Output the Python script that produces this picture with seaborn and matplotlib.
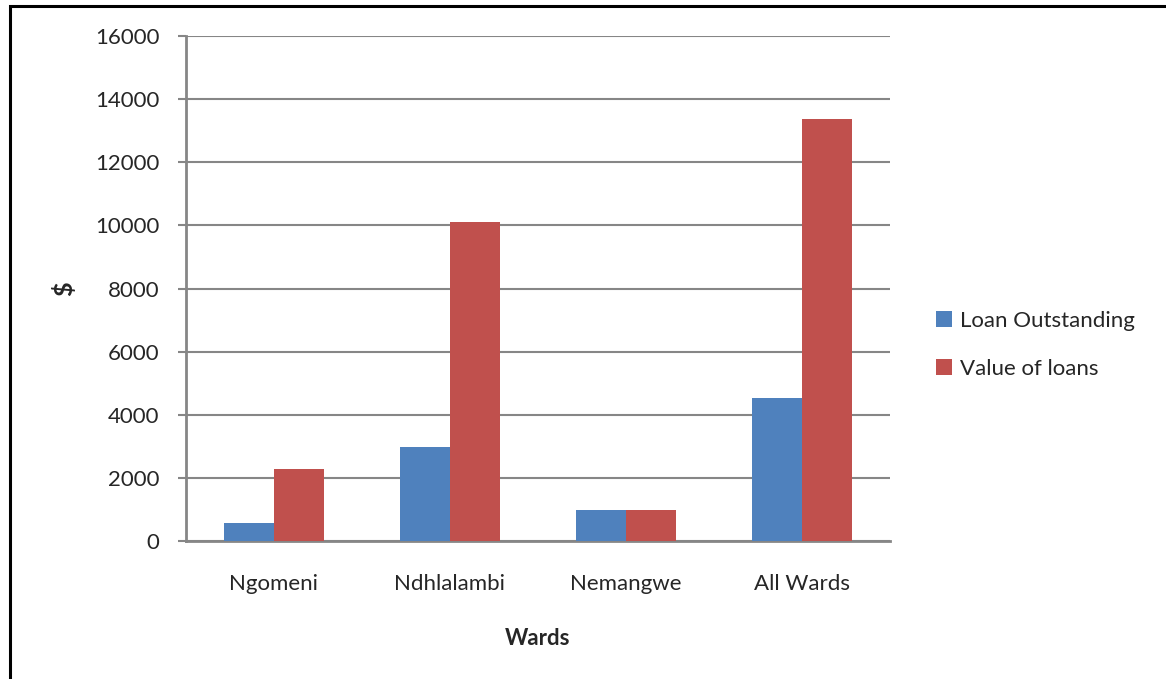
"""Loans per ward - bar chart in Excel style."""
import pandas as pd
import matplotlib.pyplot as plt
import seaborn as sns
from matplotlib.patches import Rectangle

sns.set_theme(style="white")
plt.rcParams['font.family'] = ['Lato', 'DejaVu Sans']

# data
wards = ["Ngomeni", "Ndhlalambi", "Nemangwe", "All Wards"]
loan_outstanding = [580, 2980, 970, 4540]
value_of_loans = [2280, 10100, 970, 13370]
series_names = ["Loan Outstanding", "Value of loans"]
y_ticks = [0, 2000, 4000, 6000, 8000, 10000, 12000, 14000, 16000]

df = pd.DataFrame({
    "Wards": wards * 2,
    "valor": loan_outstanding + value_of_loans,
    "serie": [series_names[0]] * len(wards) + [series_names[1]] * len(wards),
})

GRID = "#868686"

fig = plt.figure(figsize=(11.66, 6.79), dpi=100)
ax = fig.add_axes([0.1595, 0.2032, 0.6038, 0.7438])

sns.barplot(data=df, x="Wards", y="valor", hue="serie",
            palette=["#4F81BD", "#C0504D"], saturation=1, width=0.571, gap=0,
            edgecolor="none", linewidth=0, ax=ax, zorder=3)

ax.set_ylim(0, 16000)
ax.set_xlim(-0.5, len(wards) - 0.5)
ax.set_yticks(y_ticks)
ax.set_yticklabels([str(t) for t in y_ticks], fontsize=16)
ax.tick_params(axis="x", length=0, labelsize=16, pad=24)
ax.tick_params(axis="y", length=6, width=1.5, color=GRID, left=True, pad=13)
ax.yaxis.grid(True, color=GRID, linewidth=1.5, zorder=0)
ax.set_axisbelow(True)

for side in ["top", "right"]:
    ax.spines[side].set_visible(False)
for side in ["left", "bottom"]:
    ax.spines[side].set_color(GRID)
    ax.spines[side].set_linewidth(2)

ax.set_xlabel("Wards", fontsize=16, fontweight="bold", labelpad=24)
ax.set_ylabel("$", fontsize=18, fontweight="bold", labelpad=14)

leg = ax.legend(loc="center left", bbox_to_anchor=(0.786, 0.492),
                bbox_transform=fig.transFigure, frameon=False, fontsize=16,
                handlelength=0.7, handleheight=0.7, handletextpad=0.35,
                labelspacing=1.25)

# black frame round the chart (only left and top visible)
fig.patches.append(Rectangle((0.0085, -0.1), 1.2, 1.091, transform=fig.transFigure,
                             fill=False, edgecolor="black", linewidth=2.2))

plt.savefig("out.png", dpi=100)
plt.close()
